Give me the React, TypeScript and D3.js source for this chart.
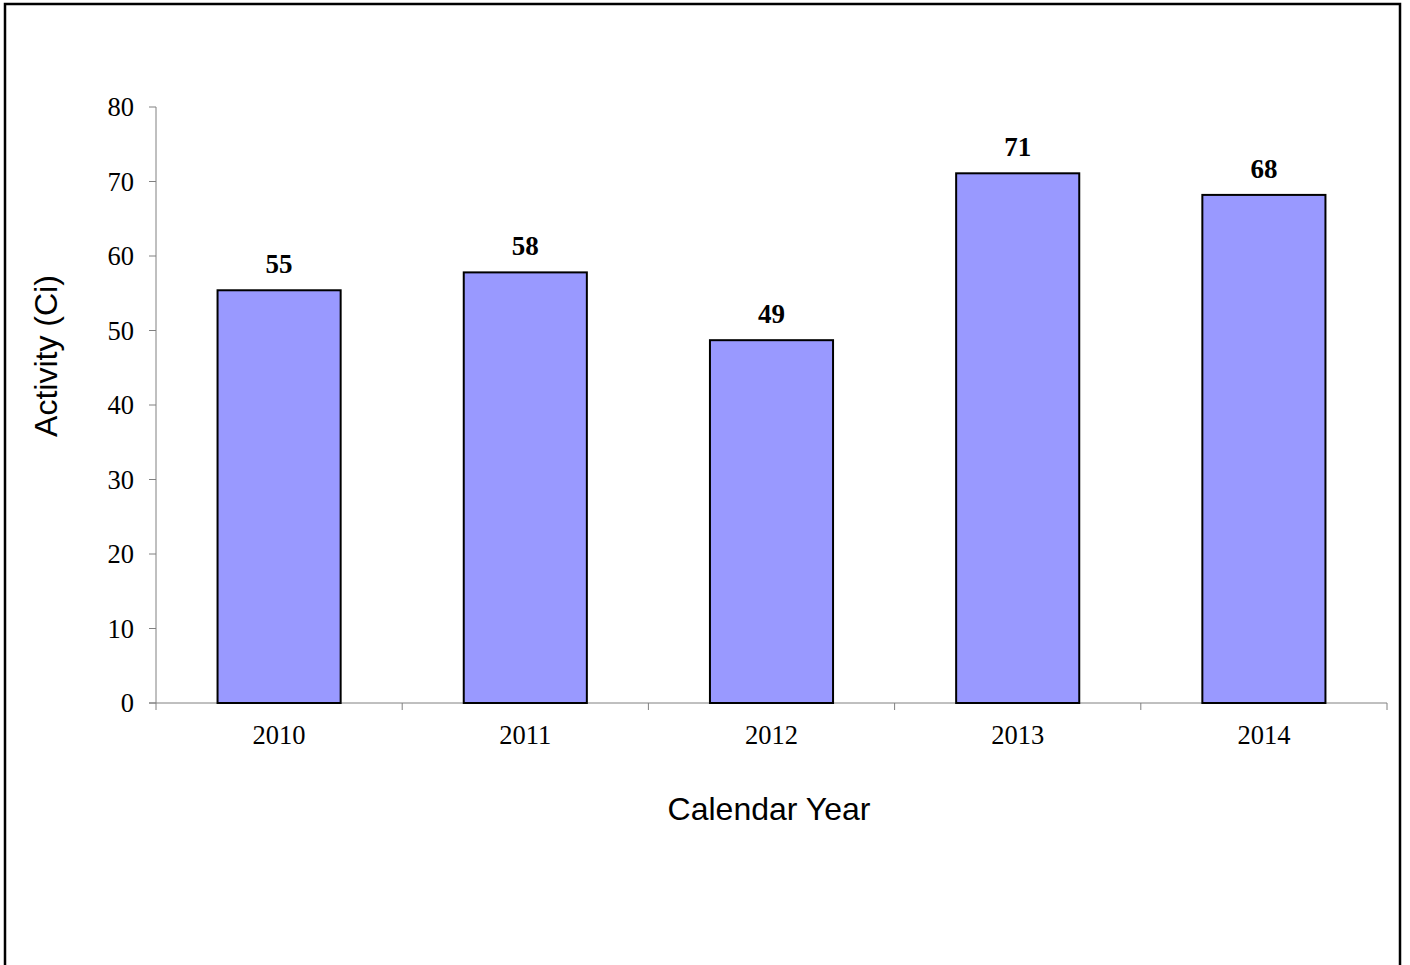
import React from "react";
import * as d3 from "d3";

const categories = ["2010", "2011", "2012", "2013", "2014"];
const values = [55.4, 57.8, 48.7, 71.1, 68.2];
const labels = ["55", "58", "49", "71", "68"];
const yTicks = [0, 10, 20, 30, 40, 50, 60, 70, 80];

export default function App() {
  const W = 1410, H = 965;
  const left = 156, right = 1387, top = 107, bottom = 703;
  const x = d3.scaleBand<string>().domain(categories).range([left, right]).paddingInner(0.5).paddingOuter(0.25);
  const y = d3.scaleLinear().domain([0, 80]).range([bottom, top]);
  const bandStep = (right - left) / categories.length;
  const axisColor = "#808080";
  const serif = "'Liberation Serif', 'Times New Roman', serif";
  const sans = "'Liberation Sans', Arial, sans-serif";
  return (
    <div style={{ position: "absolute", left: 0, top: 0 }}>
      <svg width={W} height={H} style={{ display: "block", background: "#fff" }}>
        <rect x={5} y={4} width={1395} height={1000} fill="#fff" stroke="#000" strokeWidth={2.5} />
        {/* y axis */}
        <line x1={left} y1={top} x2={left} y2={bottom} stroke={axisColor} strokeWidth={1} />
        {yTicks.map((t) => (
          <g key={t}>
            <line x1={left - 7} x2={left} y1={y(t)} y2={y(t)} stroke={axisColor} />
            <text x={left - 22} y={y(t)} dy="0.35em" textAnchor="end" fontFamily={serif} fontSize={26.5} fill="#000">
              {t}
            </text>
          </g>
        ))}
        {/* x axis */}
        <line x1={left - 7} x2={right} y1={bottom} y2={bottom} stroke={axisColor} />
        {d3.range(categories.length + 1).map((i) => (
          <line key={i} x1={left + i * bandStep} x2={left + i * bandStep} y1={bottom} y2={bottom + 7} stroke={axisColor} />
        ))}
        {categories.map((c, i) => (
          <g key={c}>
            <rect x={x(c)} y={y(values[i])} width={x.bandwidth()} height={bottom - y(values[i])} fill="#9999FF" stroke="#000" strokeWidth={2} />
            <text x={(x(c) as number) + x.bandwidth() / 2} y={y(values[i]) - 17} textAnchor="middle" fontFamily={serif} fontWeight="bold" fontSize={27} fill="#000">
              {labels[i]}
            </text>
            <text x={(x(c) as number) + x.bandwidth() / 2} y={bottom + 41} textAnchor="middle" fontFamily={serif} fontSize={26.5} fill="#000">
              {c}
            </text>
          </g>
        ))}
        <text x={769} y={820} textAnchor="middle" fontFamily={sans} fontSize={32} fill="#000">
          Calendar Year
        </text>
        <text transform="translate(57,356) rotate(-90)" textAnchor="middle" fontFamily={sans} fontSize={32} fill="#000">
          Activity (Ci)
        </text>
      </svg>
    </div>
  );
}
